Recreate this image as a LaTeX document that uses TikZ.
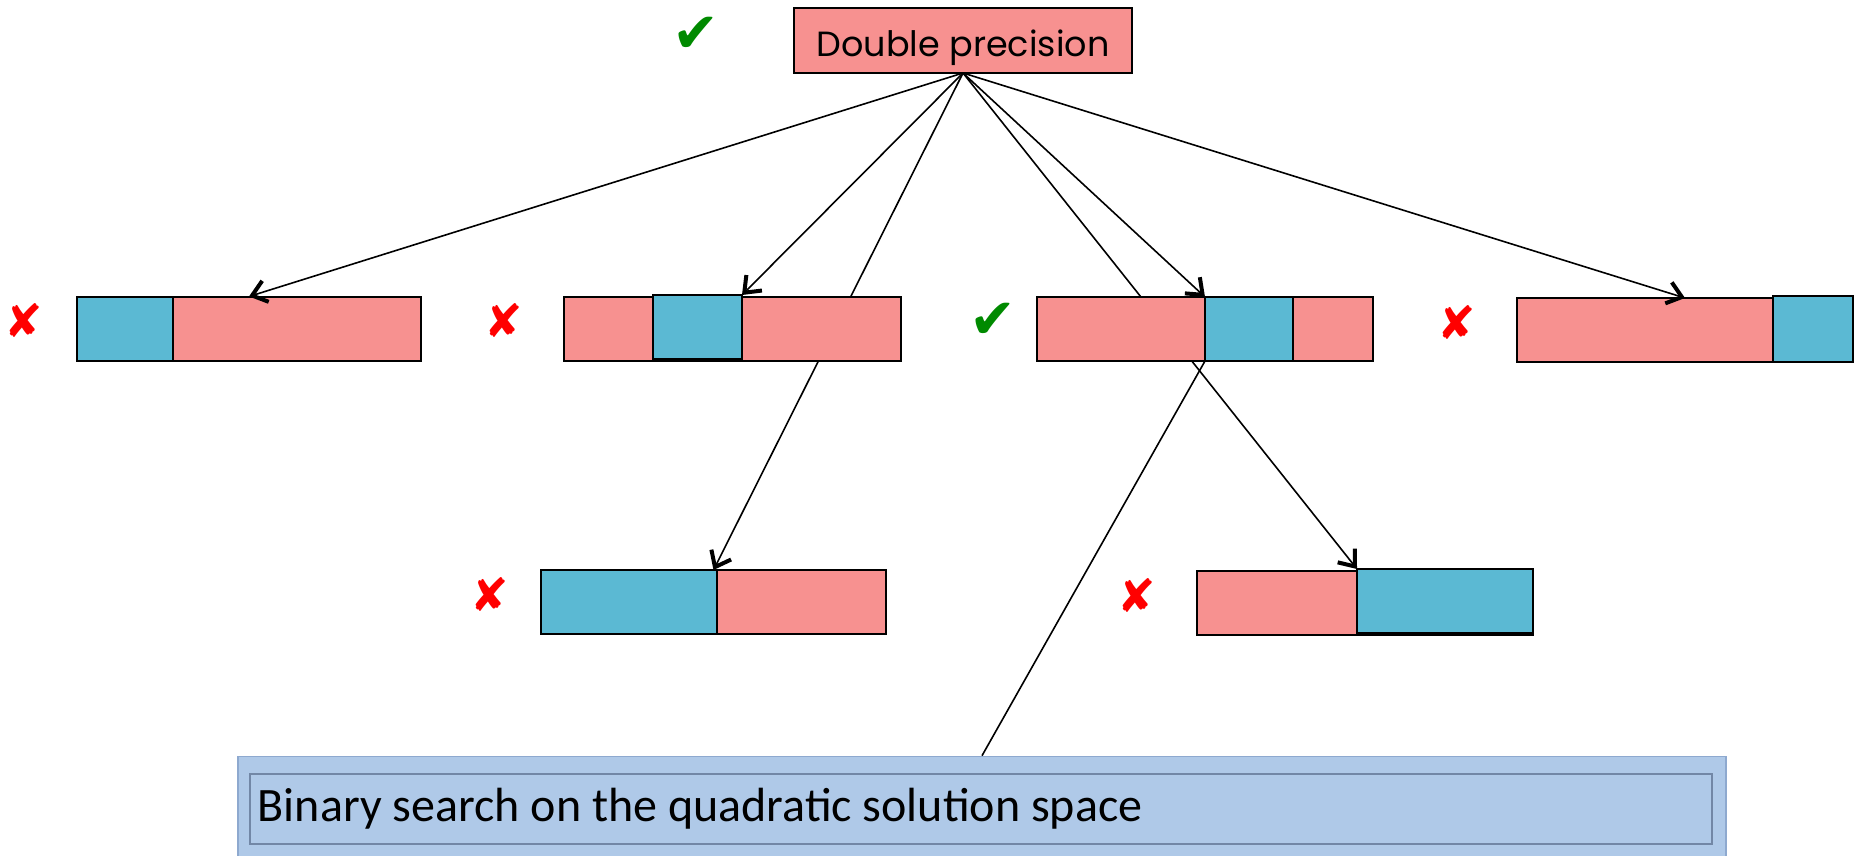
\documentclass[tikz,border=0pt]{standalone}
\usepackage{fontspec}
\setmainfont{Carlito}
\newfontfamily\handfont{Poppins}
\newfontfamily\markfont{DejaVu Sans}
\usetikzlibrary{arrows.meta,backgrounds,calc}
\definecolor{pinkbar}{HTML}{F79190}
\definecolor{bluebar}{HTML}{5BB9D3}
\definecolor{binfill}{HTML}{AFC9E8}
\definecolor{binedge}{HTML}{8EA9CF}
\definecolor{okgreen}{HTML}{008A00}
\definecolor{badred}{HTML}{FF0000}

\begin{document}
\begin{tikzpicture}[
  x=0.5pt, y=-0.5pt,
  bar/.style     = {rectangle, draw=black, line width=1pt, fill=pinkbar,
                    inner sep=0pt, outer sep=0pt, minimum height=32pt},
  seg/.style     = {bar, fill=bluebar},
  okmark/.style  = {font=\markfont\fontsize{28pt}{28pt}\selectfont, text=okgreen, inner sep=0pt},
  badmark/.style = {font=\markfont\fontsize{23pt}{23pt}\selectfont, text=badred, inner sep=0pt},
  arr/.style     = {-{Straight Barb[length=7pt,width=11pt,line width=2pt]}, line width=.8pt},
  ln/.style      = {line width=.8pt},
]
\useasboundingbox (0,0) rectangle (1864,856);

% --- top node -------------------------------------------------------------
\node[bar, minimum width=169pt, minimum height=32.5pt,
      font=\handfont\fontsize{17.5pt}{20pt}\selectfont] (dbl) at (963,40.5)
     {\raisebox{-8pt}[0pt][0pt]{Double precision}};
\node[okmark] (okdbl) at (696,35) {✔};

% --- first row of bars ----------------------------------------------------
\node[bar, minimum width=172pt] (b1) at (249,328.5) {};
\node[seg, minimum width=48pt, anchor=west] (b1s) at (b1.west) {};
\node[badmark] (x1) at (24,320) {✘};

\node[bar, minimum width=168.5pt] (b2) at (732.5,329) {};
\node[seg, minimum width=44.5pt] (b2s) at (697.5,327) {};
\node[badmark] (x2) at (504,320) {✘};

\node[bar, minimum width=168pt] (b3) at (1205,329) {};
\node[seg, minimum width=44pt] (b3s) at (1249,329) {};
\node[okmark] (ok3) at (993,321) {✔};

\node[bar, minimum width=168pt] (b5) at (1685,330) {};
\node[seg, minimum width=40pt, minimum height=33pt, anchor=east] (b5s) at ([yshift=.5pt]b5.east) {};
\node[badmark] (x5) at (1457,322) {✘};

% --- second row -----------------------------------------------------------
\node[bar, minimum width=172.5pt] (bl) at (713.5,602) {};
\node[seg, minimum width=88pt, anchor=west] (bls) at (bl.west) {};
\node[badmark] (xl) at (490,594) {✘};

\node[bar, minimum width=168pt] (br) at (1365,603) {};
\node[seg, minimum width=88pt, anchor=east] (brs) at ([yshift=1pt]br.east) {};
\node[badmark] (xr) at (1137,595) {✘};

% --- binary search banner -------------------------------------------------
\node[rectangle, fill=binfill, draw=binedge, line width=.8pt, inner sep=0pt,
      minimum width=744pt, minimum height=56.5pt] (bin) at (982,813) {};
\node[rectangle, draw=binedge!80!black, line width=.6pt, inner sep=0pt,
      minimum width=731pt, minimum height=35pt] (bininner) at (981,809) {};
\node[anchor=west, inner sep=0pt, font=\fontsize{24pt}{28pt}\selectfont]
     (bintxt) at ([xshift=4pt]bininner.west) {Binary search on the quadratic solution space};

% --- connectors -----------------------------------------------------------
\draw[arr] (dbl.south) -- (b1.north);
\draw[arr] (dbl.south) -- (b2s.north east);
\draw[arr] (dbl.south) -- (b3s.north west);
\draw[arr] (dbl.south) -- (b5.north);
\begin{scope}[on background layer]
  \draw[arr] (dbl.south) -- (bl.north);
  \draw[arr] (dbl.south) -- (brs.north west);
  \draw[ln] (b3s.south west) -- (bin.north);
\end{scope}
\end{tikzpicture}
\end{document}
